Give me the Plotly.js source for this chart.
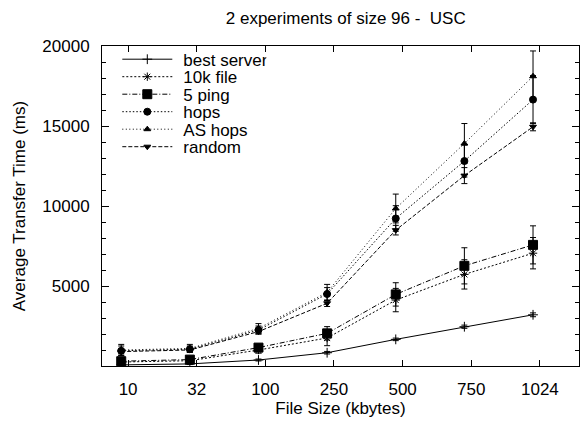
<!DOCTYPE html>
<html>
<head>
<meta charset="utf-8">
<script src="https://cdn.plot.ly/plotly-3.0.1.min.js"></script>
<style>html,body{margin:0;padding:0;background:#fff;}#chart{width:581px;height:422px;}</style>
</head>
<body>
<div id="chart"></div>
<script>
// ---- data ----
const categories = ['10', '32', '100', '250', '500', '750', '1024'];
const seriesNames = ['best server', '10k file', '5 ping', 'hops', 'AS hops', 'random'];
const bestServer    = [70, 130, 375, 830, 1665, 2455, 3200];
const bestServerErr = [30, 40, 60, 80, 80, 100, 120];
const tenKFile      = [250, 330, 1000, 1750, 4120, 5725, 7050];
const tenKFileErr   = [150, 150, 200, 480, 730, 915, 980];
const fivePing      = [300, 400, 1150, 2040, 4475, 6260, 7570];
const fivePingErr   = [200, 150, 200, 420, 730, 1130, 1190];
const hops          = [950, 1050, 2250, 4500, 9220, 12810, 16650];
const hopsErr       = [300, 200, 250, 400, 800, 1000, 1500];
const asHops        = [1000, 1100, 2350, 4600, 9845, 13905, 18110];
const asHopsErr     = [350, 250, 300, 500, 900, 1250, 1580];
const randomSel     = [900, 1000, 2150, 3920, 8490, 11900, 14950];
const randomSelErr  = [150, 100, 150, 200, 300, 500, 250];
const yTicks = [5000, 10000, 15000, 20000];

// ---- styling ----
const FONT = 'Liberation Sans, Arial, Helvetica, sans-serif';
const POINT_SHIFT = -0.1; // points drawn slightly left of the tick marks, as in the reference
const xs = categories.map((c, i) => i + POINT_SHIFT);

const styles = [
  {dash: 'solid',            symbol: 'cross-thin-open', size: 7},
  {dash: '2px,2px',          symbol: 'asterisk-open',   size: 7},
  {dash: '5px,2px,1px,2px',  symbol: 'square',          size: 9},
  {dash: '1.5px,2px',        symbol: 'circle',          size: 7},
  {dash: '1px,2.5px',        symbol: 'triangle-up',     size: 6},
  {dash: '4px,2px',          symbol: 'triangle-down',   size: 6}
];
const values = [bestServer, tenKFile, fivePing, hops, asHops, randomSel];
const errors = [bestServerErr, tenKFileErr, fivePingErr, hopsErr, asHopsErr, randomSelErr];

const traces = seriesNames.map((name, k) => ({
  type: 'scatter',
  mode: 'lines+markers',
  name: name,
  x: xs,
  y: values[k],
  line: {color: '#000', width: 1, dash: styles[k].dash},
  marker: {color: '#000', symbol: styles[k].symbol, size: styles[k].size,
           line: {color: '#000', width: 1}},
  error_y: {type: 'data', array: errors[k], visible: true, color: '#000', thickness: 1, width: 3}
}));

const layout = {
  width: 581, height: 422,
  margin: {l: 102, r: 2, t: 46, b: 56},
  paper_bgcolor: '#fff', plot_bgcolor: '#fff',
  font: {family: FONT, size: 17, color: '#000'},
  showlegend: true,
  title: {text: '2 experiments of size 96 -  USC', font: {family: FONT, size: 17, color: '#000'},
          x: 0.511, xref: 'paper', xanchor: 'center', y: 0.958, yref: 'container', yanchor: 'middle'},
  xaxis: {
    range: [-0.38, 6.57], tickvals: categories.map((c, i) => i), ticktext: categories,
    ticks: 'inside', ticklen: 6, tickcolor: '#000', tickwidth: 1,
    showline: true, linecolor: '#000', linewidth: 1, mirror: 'ticks',
    showgrid: false, zeroline: false, ticklabelstandoff: 8,
    tickfont: {family: FONT, size: 17, color: '#000'},
    title: {text: 'File Size (kbytes)', font: {family: FONT, size: 17, color: '#000'}, standoff: 0}
  },
  yaxis: {
    range: [0, 20000], tickvals: yTicks, ticktext: yTicks.map(String),
    ticks: 'inside', ticklen: 7, tickcolor: '#000', tickwidth: 1,
    minor: {dtick: 1000, tick0: 0, ticks: 'inside', ticklen: 4, tickcolor: '#000', showgrid: false},
    showline: true, linecolor: '#000', linewidth: 1, mirror: 'ticks',
    showgrid: false, zeroline: false, ticklabelstandoff: 8,
    tickfont: {family: FONT, size: 17, color: '#000'},
    title: {text: 'Average Transfer Time (ms)', font: {family: FONT, size: 17, color: '#000'}, standoff: 12}
  },
  legend: {
    x: 0.03, y: 0.99, xanchor: 'left', yanchor: 'top',
    bgcolor: 'rgba(0,0,0,0)', borderwidth: 0,
    font: {family: FONT, size: 17, color: '#000'},
    itemwidth: 50, tracegroupgap: 0
  }
};

// legend entries in the reference are packed tighter (17.5 px rows) with a longer line sample
function tightenLegend() {
  const items = document.querySelectorAll('#chart .legend .traces');
  const ROW = 17.5, FIRST = 10;
  items.forEach((g, i) => {
    g.setAttribute('transform', 'translate(0,' + (FIRST + i * ROW) + ')');
    g.querySelectorAll('.legendlines path').forEach(p => p.setAttribute('d', 'M6,0h50'));
    g.querySelectorAll('.legendpoints path').forEach(p => p.setAttribute('transform', 'translate(31,0)'));
    g.querySelectorAll('text.legendtext').forEach(t => t.setAttribute('x', '67'));
    g.querySelectorAll('rect.legendtoggle').forEach(r => r.setAttribute('height', ROW));
  });
}

Plotly.newPlot('chart', traces, layout, {displayModeBar: false, staticPlot: true}).then(tightenLegend);
</script>
</body>
</html>
